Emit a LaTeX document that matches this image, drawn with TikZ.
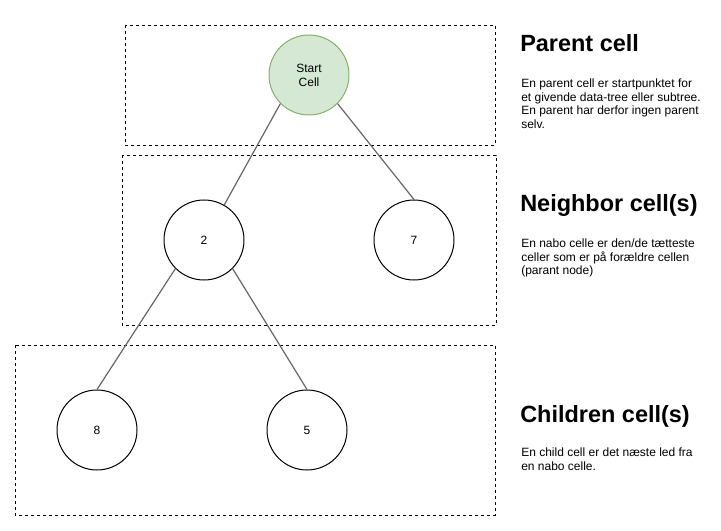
\documentclass[tikz,border=0pt]{standalone}
\usepackage{fontspec}
\setmainfont{Liberation Sans}
\usepackage{tikz}
\usetikzlibrary{positioning}
\definecolor{cellfill}{HTML}{D5E8D4}
\definecolor{celldraw}{HTML}{82B366}

\begin{document}
\begin{tikzpicture}[x=0.75pt,y=-0.75pt,
    cell/.style={circle,draw,line width=0.75pt,minimum size=60pt,inner sep=0pt,
                 align=center,font=\fontsize{9}{10.5}\selectfont},
    level/.style={draw,dash pattern=on 2.25pt off 2.25pt,line width=0.6pt},
    link/.style={draw=black!60,line width=0.9pt},
    head/.style={anchor=base west,inner sep=0pt,font=\fontsize{17.6}{20}\selectfont\bfseries},
    note/.style={anchor=north west,inner sep=0pt,align=left,
                 font=\fontsize{9}{10.1}\selectfont}]
    \useasboundingbox (0,0) rectangle (721,531);

    % levels
    \draw[level] (125,25) rectangle (495,145);
    \draw[level] (122,155) rectangle (496,325);
    \draw[level] (15,345) rectangle (495,515);

    % cells
    \node[cell,fill=cellfill,draw=celldraw] (start) at (309,75) {Start\\Cell};
    \node[cell] (a) at (204,240) {2};
    \node[cell] (b) at (414,240) {7};
    \node[cell] (c) at (97,430) {8};
    \node[cell] (d) at (307,430) {5};

    \draw[link] (start.south west) -- (a.60);
    \draw[link] (start.south east) -- (b.north);
    \draw[link] (a.south west) -- (c.north);
    \draw[link] (a.south east) -- (d.north);

    % descriptions
    \node[head] (parenthead) at (520,52) {Parent cell};
    \node[note] (parenttext) at (521,79) {En parent cell er startpunktet for\\et givende data-tree eller subtree.\\En parent har derfor ingen parent\\selv.};
    \node[head] (neighborhead) at (520,212) {Neighbor cell(s)};
    \node[note] (neighbortext) at (521,239) {En nabo celle er den/de tætteste\\celler som er på forældre cellen\\(parant node)};
    \node[head] (childhead) at (520,422) {Children cell(s)};
    \node[note] (childtext) at (521,448) {En child cell er det næste led fra\\en nabo celle.};
\end{tikzpicture}
\end{document}
